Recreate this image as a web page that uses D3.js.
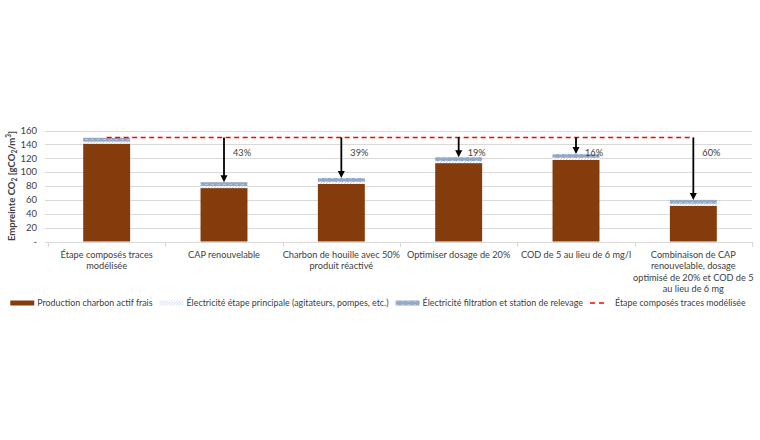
<!DOCTYPE html>
<html><head><meta charset="utf-8">
<script src="https://cdn.jsdelivr.net/npm/d3@7"></script>
<style>body{margin:0;background:#fff}svg{display:block}text{font-family:Lato,"Liberation Sans",sans-serif}</style>
</head><body>
<svg id="c" width="760" height="440"></svg>
<script>
const categories = [
  ["Étape composés traces","modélisée"],
  ["CAP renouvelable"],
  ["Charbon de houille avec 50%","produit réactivé"],
  ["Optimiser dosage de 20%"],
  ["COD de 5 au lieu de 6 mg/l"],
  ["Combinaison de CAP","renouvelable, dosage","optimisé de 20% et COD de 5","au lieu de 6 mg"]
];
const production = [141, 77, 83, 113, 117.5, 51.5];
const elecPrincipale = [3, 3, 3, 3, 3, 3];
const elecFiltration = [5.5, 5.5, 5.5, 5.5, 5.5, 5.5];
const reference = 150;
const reductions = ["", "43%", "39%", "19%", "16%", "60%"];
const yTicks = [0, 20, 40, 60, 80, 100, 120, 140, 160];
const seriesNames = ["Production charbon actif frais", "Électricité étape principale (agitateurs, pompes, etc.)", "Électricité filtration et station de relevage", "Étape composés traces modélisée"];

const FS = 9.2, LFS = 8.9;
const svg = d3.select("#c");
const keys = categories.map((c,i)=>"c"+i);
const x = d3.scaleBand().domain(keys).range([48, 752]).paddingInner(0.6).paddingOuter(0.3);
const y = d3.scaleLinear().domain([0,160]).range([241.5,130.5]);

const defs = svg.append("defs");
const hp = defs.append("pattern").attr("id","hatch").attr("patternUnits","userSpaceOnUse").attr("width",3).attr("height",3);
hp.append("rect").attr("width",3).attr("height",3).attr("fill","#ffffff");
hp.append("path").attr("d","M-1,1 L1,-1 M0,3 L3,0 M2,4 L4,2").attr("stroke","#bccde5").attr("stroke-width",0.8);
const tp = defs.append("pattern").attr("id","tex").attr("patternUnits","userSpaceOnUse").attr("width",6).attr("height",3);
tp.append("rect").attr("width",6).attr("height",3).attr("fill","#93a9c6");
tp.append("rect").attr("x",1).attr("y",1).attr("width",3).attr("height",1).attr("fill","#b3c3d8");

// gridlines
svg.append("g").selectAll("line").data(yTicks.slice(1)).join("line")
  .attr("x1",45).attr("x2",752).attr("y1",d=>Math.round(y(d))+0.5).attr("y2",d=>Math.round(y(d))+0.5)
  .attr("stroke","#d9d9d9").attr("stroke-width",1);

// y axis labels
svg.append("g").selectAll("text").data(yTicks).join("text")
  .attr("x",37).attr("y",d=>y(d)).attr("dy","0.35em").attr("text-anchor","end")
  .attr("font-size",FS+0.3).attr("fill","#404040").text(d=>d===0?"-":d);

// x axis line and ticks
const xa = svg.append("g");
xa.append("line").attr("x1",45).attr("x2",752).attr("y1",Math.round(y(0))+0.5).attr("y2",Math.round(y(0))+0.5).attr("stroke","#d9d9d9");
const bounds = keys.map(k=>x(k) - (x.step()-x.bandwidth())/2);
bounds.push(752);
xa.selectAll("line.t").data(bounds).join("line").attr("class","t")
  .attr("x1",d=>Math.round(d)+0.5).attr("x2",d=>Math.round(d)+0.5)
  .attr("y1",Math.round(y(0))).attr("y2",Math.round(y(0))+5).attr("stroke","#d9d9d9");

// category labels
const cl = svg.append("g").selectAll("text").data(categories).join("text")
  .attr("x",(d,i)=>x(keys[i])+x.bandwidth()/2).attr("y",258).attr("text-anchor","middle")
  .attr("font-size",FS).attr("fill","#404040");
cl.selectAll("tspan").data(d=>d).join("tspan")
  .attr("x",function(){return this.parentNode.getAttribute("x");})
  .attr("dy",(d,j)=>j===0?0:11.4).text(d=>d);

// stacked bars
const stackData = keys.map((k,i)=>({k, p:production[i], e1:elecPrincipale[i], e2:elecFiltration[i]}));
const stack = d3.stack().keys(["p","e1","e2"])(stackData);
const fills = {p:"#843c0c", e1:"url(#hatch)", e2:"url(#tex)"};
svg.append("g").selectAll("g").data(stack).join("g").attr("fill",s=>fills[s.key])
  .selectAll("rect").data(s=>s).join("rect")
  .attr("x",d=>x(d.data.k)).attr("width",x.bandwidth())
  .attr("y",d=>y(d[1])).attr("height",d=>y(d[0])-y(d[1]));

// reference dashed line
svg.append("line").attr("x1",x(keys[0])+x.bandwidth()/2).attr("x2",x(keys[5])+x.bandwidth()/2)
  .attr("y1",y(reference)).attr("y2",y(reference))
  .attr("stroke","#ff0000").attr("stroke-width",1.5).attr("stroke-dasharray","5,3.5");

// arrows
const totals = stackData.map(d=>d.p+d.e1+d.e2);
const ag = svg.append("g");
keys.forEach((k,i)=>{
  if(!reductions[i]) return;
  const cx = x(k)+x.bandwidth()/2;
  const y0 = y(reference), y1 = y(totals[i]);
  ag.append("line").attr("x1",cx).attr("x2",cx).attr("y1",y0).attr("y2",y1-6).attr("stroke","#000").attr("stroke-width",1.8);
  ag.append("path").attr("d",`M${cx-3.5},${y1-7} L${cx+3.5},${y1-7} L${cx},${y1} Z`).attr("fill","#000");
  ag.append("text").attr("x",cx+9).attr("y",y(128.5)).attr("dy","0.35em").attr("font-size",FS).attr("fill","#404040").text(reductions[i]);
});

// y title
const yt = svg.append("text").attr("transform","translate(15,186) rotate(-90)").attr("text-anchor","middle")
  .attr("font-size",FS+0.3).attr("font-weight","bold").attr("fill","#404040");
yt.append("tspan").text("Empreinte CO");
yt.append("tspan").attr("font-size",6.5).attr("baseline-shift","-2").text("2");
yt.append("tspan").text(" [gCO");
yt.append("tspan").attr("font-size",6.5).attr("baseline-shift","-2").text("2");
yt.append("tspan").text("/m");
yt.append("tspan").attr("font-size",6.5).attr("baseline-shift","4").text("3");
yt.append("tspan").text("]");

// legend
const lg = svg.append("g");
let lx = 0; const ly = 303;
seriesNames.forEach((n,i)=>{
  const g = lg.append("g");
  let sw = 24;
  if(i===0) g.append("rect").attr("x",lx).attr("y",ly-2.5).attr("width",24).attr("height",5).attr("fill","#843c0c");
  if(i===1) g.append("rect").attr("x",lx).attr("y",ly-2.5).attr("width",24).attr("height",5).attr("fill","url(#hatch)");
  if(i===2) g.append("rect").attr("x",lx).attr("y",ly-2.5).attr("width",24).attr("height",5).attr("fill","url(#tex)");
  if(i===3){ g.append("line").attr("x1",lx).attr("x2",lx+14).attr("y1",ly).attr("y2",ly).attr("stroke","#ff0000").attr("stroke-width",1.5).attr("stroke-dasharray","5,4"); sw = 22; }
  const t = g.append("text").attr("x",lx+sw+3).attr("y",ly).attr("dy","0.35em").attr("font-size",LFS).attr("fill","#404040").text(n);
  lx += sw + 3 + t.node().getComputedTextLength() + 7;
});
const lw = lx - 7;
lg.attr("transform",`translate(${(8+748)/2 - lw/2},0)`);
</script>
</body></html>
